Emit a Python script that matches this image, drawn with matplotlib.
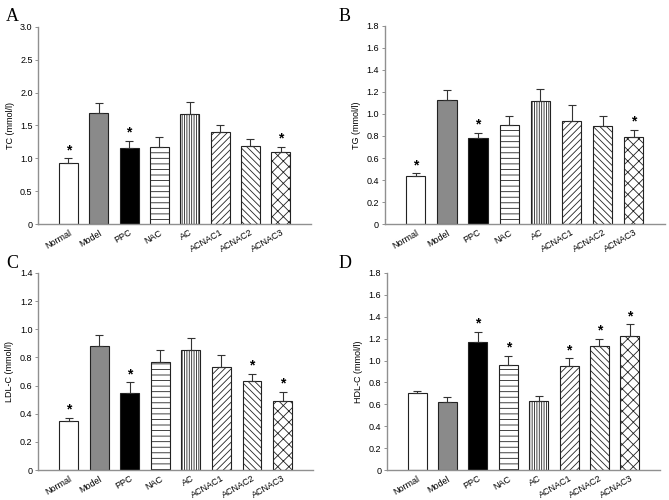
import matplotlib.pyplot as plt

plt.rcParams['font.family'] = ['Liberation Sans', 'DejaVu Sans']
plt.rcParams['hatch.linewidth'] = 0.6

groups = ['Normal', 'Model', 'PPC', 'NAC', 'AC', 'ACNAC1', 'ACNAC2', 'ACNAC3']

tc = [0.93, 1.69, 1.15, 1.17, 1.68, 1.40, 1.19, 1.10]
tc_err = [0.07, 0.16, 0.12, 0.15, 0.18, 0.10, 0.10, 0.08]
tc_sig = [0, 2, 7]

tg = [0.44, 1.13, 0.78, 0.90, 1.12, 0.94, 0.89, 0.79]
tg_err = [0.02, 0.09, 0.05, 0.08, 0.11, 0.14, 0.09, 0.065]
tg_sig = [0, 2, 7]

ldl = [0.35, 0.88, 0.55, 0.77, 0.855, 0.735, 0.63, 0.49]
ldl_err = [0.02, 0.08, 0.075, 0.08, 0.085, 0.08, 0.055, 0.065]
ldl_sig = [0, 2, 6, 7]

hdl = [0.70, 0.62, 1.17, 0.955, 0.63, 0.95, 1.13, 1.225]
hdl_err = [0.02, 0.05, 0.095, 0.09, 0.05, 0.07, 0.07, 0.105]
hdl_sig = [2, 3, 5, 6, 7]

fills = ['white', '#8a8a8a', 'black', 'white', 'white', 'white', 'white', 'white']
hatches = [None, None, None, '---', '|||||||', '/////', '\\\\\\\\\\', 'xxx']

# letter, ylabel, values, errors, starred bars, ymax, tick step, axes box, letter pos (px)
panels = [
    ('A', 'TC (mmol/l)', tc, tc_err, tc_sig, 3.0, 0.5, [0.057, 0.552, 0.408, 0.394], (6, 8)),
    ('B', 'TG (mmol/l)', tg, tg_err, tg_sig, 1.8, 0.2, [0.575, 0.552, 0.419, 0.396], (339, 8)),
    ('C', 'LDL-C (mmol/l)', ldl, ldl_err, ldl_sig, 1.4, 0.2, [0.057, 0.060, 0.411, 0.394], (6, 255)),
    ('D', 'HDL-C (mmol/l)', hdl, hdl_err, hdl_sig, 1.8, 0.2, [0.578, 0.060, 0.409, 0.394], (339, 255)),
]

fig = plt.figure(figsize=(6.69, 5.0), dpi=100)

for letter, ylab, vals, errs, sig, ymax, step, pos, lpos in panels:
    ax = fig.add_axes(pos)
    x = list(range(len(groups)))
    ax.bar(x, vals, width=0.62, color=fills, edgecolor='#222222', linewidth=0.8,
           hatch=hatches, zorder=2)
    ax.errorbar(x, vals, yerr=[[0] * len(vals), errs], fmt='none', ecolor='#333333',
                elinewidth=0.8, capsize=3, capthick=0.8, zorder=3)
    for i in sig:
        ax.text(i, vals[i] + errs[i] + ymax * 0.005, '*', ha='center', va='bottom',
                fontsize=10, fontweight='bold')
    ax.set_xlim(-1, 8)
    ax.set_ylim(0, ymax)
    n = int(round(ymax / step))
    ticks = [step * k for k in range(n + 1)]
    ax.set_yticks(ticks)
    ax.set_yticklabels(['0'] + ['%.1f' % t for t in ticks[1:]])
    ax.set_xticks(x)
    ax.set_xticklabels(groups, rotation=30, ha='right', rotation_mode='anchor')
    ax.tick_params(axis='x', length=0, labelsize=6.5, pad=3)
    ax.tick_params(axis='y', length=2, width=0.6, labelsize=6.5, pad=2, color='#808080')
    ax.set_ylabel(ylab, fontsize=6.5, labelpad=4)
    for s in ['top', 'right']:
        ax.spines[s].set_visible(False)
    for s in ['left', 'bottom']:
        ax.spines[s].set_color('#909090')
        ax.spines[s].set_linewidth(1.0)
    fig.text(lpos[0] / 669, 1 - lpos[1] / 500, letter, fontsize=13,
             family=['Liberation Serif', 'DejaVu Serif'], va='top', ha='left')

fig.savefig('out.png', dpi=100)
